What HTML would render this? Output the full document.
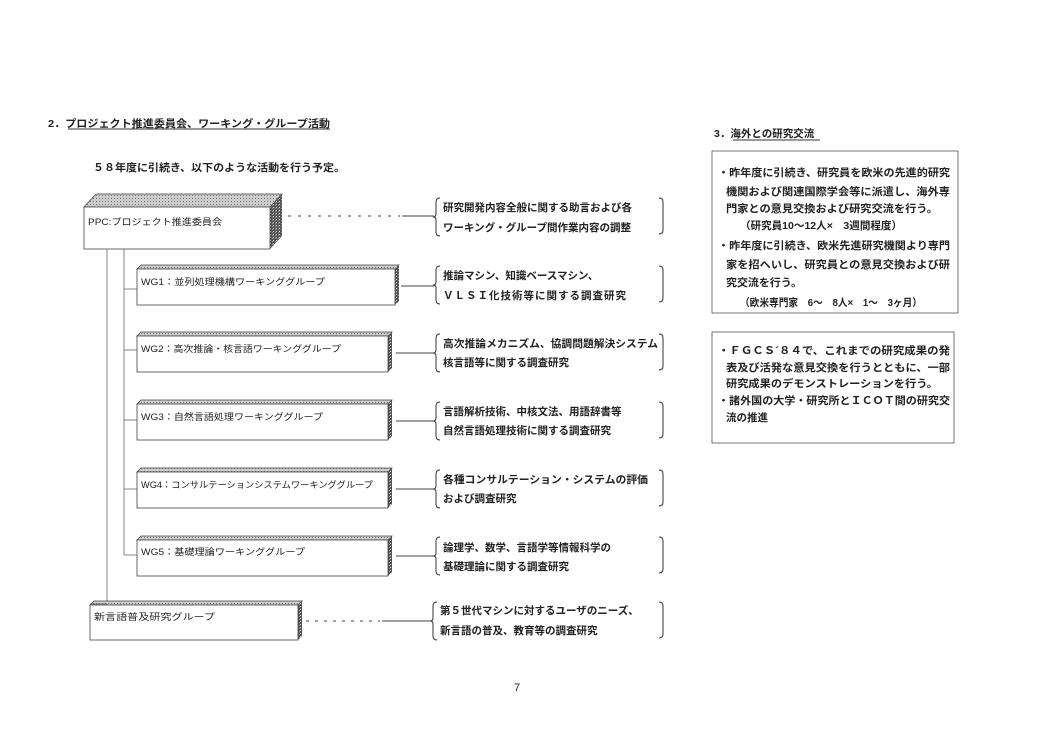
<!DOCTYPE html>
<html><head><meta charset="utf-8"><style>
body{margin:0;background:#fff;}
svg{display:block}
text{font-family:"Liberation Sans","Noto Sans CJK JP",sans-serif;fill:#222;}
.s{font-size:9px}
.m{font-size:10.5px;font-weight:bold}
</style></head><body>
<svg width="1054" height="750" viewBox="0 0 1054 750">
<defs>
<pattern id="dk" width="3" height="3" patternUnits="userSpaceOnUse"><rect width="3" height="3" fill="#555"/><rect width="1" height="1" fill="#ddd"/><rect x="2" y="1" width="1" height="1" fill="#999"/></pattern>
<pattern id="lt" width="3" height="3" patternUnits="userSpaceOnUse"><rect width="3" height="3" fill="#ccc"/><rect width="1" height="1" fill="#777"/></pattern>
</defs>
<text x="48" y="127" class="m" textLength="282" lengthAdjust="spacingAndGlyphs">2．プロジェクト推進委員会、ワーキング・グループ活動</text>
<line x1="68" y1="129" x2="330" y2="129" stroke="#333"/>
<text x="93" y="171" class="m" font-weight="normal" textLength="252" lengthAdjust="spacingAndGlyphs">５８年度に引続き、以下のような活動を行う予定。</text>

<!-- PPC box -->
<polygon points="84,207 96,194 282,194 270,207" fill="url(#lt)" stroke="#444" stroke-width="0.8"/>
<polygon points="270,207 282,194 282,236 270,249" fill="url(#dk)"/>
<rect x="84" y="207" width="186" height="42" fill="#fff" stroke="#444" stroke-width="0.8"/>
<text x="88" y="225" class="s" textLength="134" lengthAdjust="spacingAndGlyphs">PPC:プロジェクト推進委員会</text>
<line x1="288" y1="216" x2="400" y2="216" stroke="#444" stroke-dasharray="3,7"/>
<line x1="402" y1="216" x2="434" y2="216" stroke="#444"/>

<line x1="107" y1="249" x2="107" y2="604" stroke="#666" stroke-width="0.8"/>
<line x1="124" y1="249" x2="124" y2="555" stroke="#666" stroke-width="0.8"/>

<g stroke="#444" stroke-width="0.8">
<polygon points="137,269 141,265 399,265 395,269" fill="url(#lt)"/>
<polygon points="395,269 399,265 399,301 395,305" fill="url(#dk)" stroke="none"/>
<rect x="137" y="269" width="258" height="36" fill="#fff"/>
<polygon points="137,336 141,332 392,332 388,336" fill="url(#lt)"/>
<polygon points="388,336 392,332 392,368 388,372" fill="url(#dk)" stroke="none"/>
<rect x="137" y="336" width="251" height="36" fill="#fff"/>
<polygon points="137,404 141,400 392,400 388,404" fill="url(#lt)"/>
<polygon points="388,404 392,400 392,436 388,440" fill="url(#dk)" stroke="none"/>
<rect x="137" y="404" width="251" height="36" fill="#fff"/>
<polygon points="137,472 141,468 392,468 388,472" fill="url(#lt)"/>
<polygon points="388,472 392,468 392,504 388,508" fill="url(#dk)" stroke="none"/>
<rect x="137" y="472" width="251" height="36" fill="#fff"/>
<polygon points="137,540 141,536 392,536 388,540" fill="url(#lt)"/>
<polygon points="388,540 392,536 392,572 388,576" fill="url(#dk)" stroke="none"/>
<rect x="137" y="540" width="251" height="36" fill="#fff"/>
<polygon points="90,605 94,601 302,601 298,605" fill="url(#lt)"/>
<polygon points="298,605 302,601 302,636 298,640" fill="url(#dk)" stroke="none"/>
<rect x="90" y="605" width="208" height="35" fill="#fff"/>
</g>
<g stroke="#666" stroke-width="0.8">
<line x1="124" y1="289" x2="137" y2="289"/>
<line x1="124" y1="350" x2="137" y2="350"/>
<line x1="124" y1="420" x2="137" y2="420"/>
<line x1="124" y1="489" x2="137" y2="489"/>
<line x1="124" y1="555" x2="137" y2="555"/>
<line x1="107" y1="604" x2="90" y2="604"/>
</g>
<g class="s">
<text x="141" y="285" textLength="184" lengthAdjust="spacingAndGlyphs">WG1：並列処理機構ワーキンググループ</text>
<text x="141" y="352" textLength="200" lengthAdjust="spacingAndGlyphs">WG2：高次推論・核言語ワーキンググループ</text>
<text x="141" y="420" textLength="182" lengthAdjust="spacingAndGlyphs">WG3：自然言語処理ワーキンググループ</text>
<text x="141" y="488" textLength="232" lengthAdjust="spacingAndGlyphs">WG4：コンサルテーションシステムワーキンググループ</text>
<text x="141" y="555" textLength="164" lengthAdjust="spacingAndGlyphs">WG5：基礎理論ワーキンググループ</text>
<text x="94" y="620" textLength="121" lengthAdjust="spacingAndGlyphs">新言語普及研究グループ</text>
</g>
<g stroke="#444" stroke-width="0.9">
<line x1="401" y1="286" x2="434" y2="286"/>
<line x1="396" y1="353" x2="434" y2="353"/>
<line x1="396" y1="421" x2="434" y2="421"/>
<line x1="396" y1="489" x2="434" y2="489"/>
<line x1="396" y1="556" x2="434" y2="556"/>
<line x1="306" y1="621" x2="380" y2="621" stroke-dasharray="3,6"/>
<line x1="382" y1="621" x2="432" y2="621"/>
</g>
<g fill="none" stroke="#333" stroke-width="1">
<path d="M440,198 q-4,0 -4,4 v12 q0,3 -3,3 q3,0 3,3 v12 q0,4 4,4"/>
<path d="M659,198 q4,0 4,4 v28 q0,4 -4,4"/>
<path d="M440,266 q-4,0 -4,4 v12 q0,3 -3,3 q3,0 3,3 v12 q0,4 4,4"/>
<path d="M659,266 q4,0 4,4 v28 q0,4 -4,4"/>
<path d="M440,334 q-4,0 -4,4 v12 q0,3 -3,3 q3,0 3,3 v12 q0,4 4,4"/>
<path d="M659,334 q4,0 4,4 v28 q0,4 -4,4"/>
<path d="M440,402 q-4,0 -4,4 v12 q0,3 -3,3 q3,0 3,3 v12 q0,4 4,4"/>
<path d="M659,402 q4,0 4,4 v28 q0,4 -4,4"/>
<path d="M440,470 q-4,0 -4,4 v12 q0,3 -3,3 q3,0 3,3 v12 q0,4 4,4"/>
<path d="M659,470 q4,0 4,4 v28 q0,4 -4,4"/>
<path d="M440,537 q-4,0 -4,4 v12 q0,3 -3,3 q3,0 3,3 v12 q0,4 4,4"/>
<path d="M659,537 q4,0 4,4 v28 q0,4 -4,4"/>
<path d="M437,602 q-4,0 -4,4 v12 q0,3 -3,3 q3,0 3,3 v12 q0,4 4,4"/>
<path d="M659,602 q4,0 4,4 v28 q0,4 -4,4"/>
</g>
<g class="m">
<text x="443" y="211">研究開発内容全般に関する助言および各</text>
<text x="443" y="231">ワーキング・グループ間作業内容の調整</text>
<text x="443" y="279">推論マシン、知識ベースマシン、</text>
<text x="443" y="299" letter-spacing="1">ＶＬＳＩ化技術等に関する調査研究</text>
<text x="443" y="347" textLength="215" lengthAdjust="spacingAndGlyphs">高次推論メカニズム、協調問題解決システム</text>
<text x="443" y="366">核言語等に関する調査研究</text>
<text x="443" y="415">言語解析技術、中核文法、用語辞書等</text>
<text x="443" y="434">自然言語処理技術に関する調査研究</text>
<text x="443" y="483" textLength="205" lengthAdjust="spacingAndGlyphs">各種コンサルテーション・システムの評価</text>
<text x="443" y="502">および調査研究</text>
<text x="443" y="551">論理学、数学、言語学等情報科学の</text>
<text x="443" y="570">基礎理論に関する調査研究</text>
<text x="440" y="614">第５世代マシンに対するユーザのニーズ、</text>
<text x="440" y="634">新言語の普及、教育等の調査研究</text>
</g>

<text x="714" y="137" class="m">3．海外との研究交流</text>
<line x1="733" y1="140" x2="820" y2="140" stroke="#333"/>
<rect x="712" y="151" width="246" height="162" fill="none" stroke="#555" stroke-width="0.8"/>
<g class="m" font-size="10">
<text x="718" y="176" textLength="232" lengthAdjust="spacingAndGlyphs">・昨年度に引続き、研究員を欧米の先進的研究</text>
<text x="726" y="195" textLength="224" lengthAdjust="spacingAndGlyphs">機関および関連国際学会等に派遣し、海外専</text>
<text x="726" y="212" textLength="212" lengthAdjust="spacingAndGlyphs">門家との意見交換および研究交流を行う。</text>
<text x="740" y="229" textLength="162" lengthAdjust="spacingAndGlyphs">（研究員10～12人×　3週間程度）</text>
<text x="718" y="249" textLength="232" lengthAdjust="spacingAndGlyphs">・昨年度に引続き、欧米先進研究機関より専門</text>
<text x="726" y="268" textLength="224" lengthAdjust="spacingAndGlyphs">家を招へいし、研究員との意見交換および研</text>
<text x="726" y="286" textLength="76" lengthAdjust="spacingAndGlyphs">究交流を行う。</text>
<text x="740" y="306" textLength="182" lengthAdjust="spacingAndGlyphs">（欧米専門家　6～　8人×　1～　3ヶ月）</text>
</g>
<rect x="712" y="332" width="242" height="111" fill="none" stroke="#555" stroke-width="0.8"/>
<g class="m" font-size="10">
<text x="718" y="354" textLength="232" lengthAdjust="spacingAndGlyphs">・ＦＧＣＳ´８４で、これまでの研究成果の発</text>
<text x="726" y="371" textLength="224" lengthAdjust="spacingAndGlyphs">表及び活発な意見交換を行うとともに、一部</text>
<text x="726" y="387" textLength="212" lengthAdjust="spacingAndGlyphs">研究成果のデモンストレーションを行う。</text>
<text x="718" y="404" textLength="232" lengthAdjust="spacingAndGlyphs">・諸外国の大学・研究所とＩＣＯＴ間の研究交</text>
<text x="726" y="421" textLength="42" lengthAdjust="spacingAndGlyphs">流の推進</text>
</g>
<text x="514" y="691" font-size="11">7</text>
</svg>
</body></html>
